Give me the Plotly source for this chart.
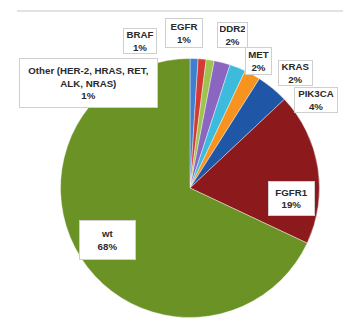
import plotly.graph_objects as go

labels = ["Other (HER-2, HRAS, RET,<br>ALK, NRAS)", "BRAF", "EGFR", "DDR2", "MET", "KRAS", "PIK3CA", "FGFR1", "wt"]
values = [1, 1, 1, 2, 2, 2, 4, 19, 68]
colors = ["#3F7FCF", "#D43A34", "#9CC44E", "#8A66C2", "#3DBBDD", "#F7931E", "#1F56A6", "#8C1A1C", "#6B9225"]

# label box layout (pixel centers and sizes in the 343x326 canvas)
box_pos = {
    "Other (HER-2, HRAS, RET,<br>ALK, NRAS)": (88, 83, 139, 50),
    "BRAF": (140, 41, 34, 26),
    "EGFR": (184, 33, 38, 30),
    "DDR2": (233, 35, 31, 26),
    "MET": (258, 61, 27, 28),
    "KRAS": (295, 73, 35, 26),
    "PIK3CA": (316, 100, 44, 26),
    "FGFR1": (291, 198, 47, 35),
    "wt": (107, 240, 57, 40),
}

W, H = 343, 326
cx, cy, r = 190, 188, 129.5

fig = go.Figure(go.Pie(
    labels=labels, values=values, sort=False, direction="clockwise", rotation=0,
    marker=dict(colors=colors, line=dict(color="rgba(255,255,255,0.5)", width=0.8)),
    textinfo="none", hoverinfo="label+value", showlegend=False,
    domain=dict(x=[(cx - r) / W, (cx + r) / W], y=[(H - cy - r) / H, (H - cy + r) / H]),
))

total = sum(values)
pad = 2
for lab, v in zip(labels, values):
    x, y, bw, bh = box_pos[lab]
    fig.add_annotation(
        x=x / W, y=1 - y / H, xref="paper", yref="paper", xanchor="center", yanchor="middle",
        text=f"<b>{lab}<br>{round(100 * v / total)}%</b>", showarrow=False,
        font=dict(family="Liberation Sans, Arial, sans-serif", size=9.7, color="#2A2A2A"),
        bgcolor="white", bordercolor="#CFCFCF", borderwidth=1, borderpad=pad,
        width=bw - 2 * pad - 2, height=bh - 2 * pad - 2, align="center", valign="middle",
    )

fig.add_shape(type="line", xref="paper", yref="paper", x0=17 / W, x1=1, y0=1 - 11 / H, y1=1 - 11 / H,
              line=dict(color="#E2E2E2", width=2))

fig.update_layout(width=W, height=H, margin=dict(l=0, r=0, t=0, b=0),
                  paper_bgcolor="white", plot_bgcolor="white")
fig.write_html("out.html")
